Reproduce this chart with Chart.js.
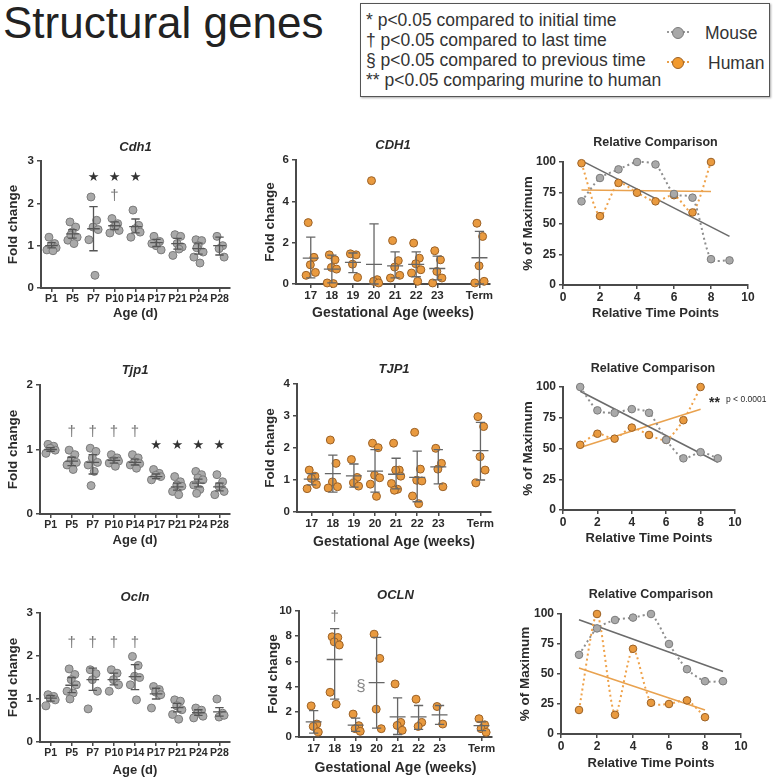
<!DOCTYPE html>
<html>
<head>
<meta charset="utf-8">
<script src="https://cdn.jsdelivr.net/npm/chart.js@4.4.0/dist/chart.umd.min.js"></script>
<style>
  body { margin: 0; width: 780px; height: 780px; position: relative; overflow: hidden; background: #fff;
         font-family: "Liberation Sans", Arial, sans-serif; color: #222; }
  .panel { position: absolute; }
  #bigTitle { position: absolute; left: 3px; top: -2px; font-size: 44px; line-height: 50px; color: #222; }
  #key { position: absolute; left: 360px; top: 3px; width: 408px; height: 92px; border: 1px solid #555;
         box-shadow: 1px 1px 2px #aaa; }
  #key .lines { position: absolute; left: 5px; top: 6px; font-size: 17.5px; line-height: 20px; color: #333; white-space: nowrap; }
  .sym { position: absolute; width: 10px; height: 10px; border-radius: 50%; }
  .stub { position: absolute; width: 22px; border-top: 2px dotted #999; }
  .lab { position: absolute; font-size: 17.5px; line-height: 20px; color: #333; }
</style>
</head>
<body>
<div id="bigTitle">Structural genes</div>
<div id="key">
  <div class="lines">
    * p&lt;0.05 compared to initial time<br>
    † p&lt;0.05 compared to last time<br>
    § p&lt;0.05 compared to previous time<br>
    ** p&lt;0.05 comparing murine to human
  </div>
  <div class="stub" style="left:306px;top:27px"></div>
  <div class="sym" style="left:311px;top:23px;background:#a9a9a9;border:1px solid #7b7b7b"></div>
  <div class="lab" style="left:344px;top:19px">Mouse</div>
  <div class="stub" style="left:306px;top:57px;border-color:#e9a04a"></div>
  <div class="sym" style="left:311px;top:53px;background:#f29a2e;border:1px solid #9b6126"></div>
  <div class="lab" style="left:347px;top:49px">Human</div>
</div>

<script>
// categories / tick labels
const mouseAges = ['P1', 'P5', 'P7', 'P10', 'P14', 'P17', 'P21', 'P24', 'P28'];
const mousePos = [0, 1, 2, 3, 4, 5, 6, 7, 8];
const humanAges = ['17', '18', '19', '20', '21', '22', '23', 'Term'];
const humanPos = [0, 1, 2, 3, 4, 5, 6, 8];

// Cdh1 (mouse)
const cdh1Mouse = [
  [1.2, 1.05, 1.0, 0.95, 0.9, 0.88],
  [1.56, 1.44, 1.32, 1.2, 1.13, 1.05, 1.25],
  [2.15, 1.6, 1.44, 1.38, 1.14, 0.3],
  [1.64, 1.52, 1.44, 1.36, 1.3, 1.48],
  [1.84, 1.48, 1.4, 1.32, 1.2],
  [1.22, 1.1, 1.0, 0.9, 1.05],
  [1.26, 1.22, 1.05, 0.97, 0.77, 0.92],
  [1.14, 1.12, 1.0, 0.85, 0.73, 0.59, 0.95],
  [1.22, 1.0, 0.93, 0.73]
];
const cdh1MouseMean = [1.0, 1.28, 1.4, 1.47, 1.45, 1.07, 1.05, 0.93, 1.0];
const cdh1MouseLo = [0.95, 1.18, 0.88, 1.38, 1.3, 0.98, 0.92, 0.8, 0.78];
const cdh1MouseHi = [1.07, 1.38, 1.92, 1.56, 1.63, 1.15, 1.17, 1.06, 1.2];

// CDH1 (human)
const cdh1Human = [
  [2.97, 1.29, 0.93, 0.56, 0.42],
  [1.41, 1.17, 0.8, 0.72, 0.05, 0.02],
  [1.46, 1.41, 0.96, 0.32],
  [5.0, 0.21, 0.13, 0.05],
  [2.1, 1.13, 0.82, 0.42, 0.29],
  [1.98, 1.25, 0.98, 0.69, 0.53, 0.13],
  [1.61, 1.17, 0.61, 0.29, 0.05],
  [2.94, 2.3, 0.88, 0.13, 0.05]
];
const cdh1HumanMean = [1.25, 0.72, 1.05, 0.95, 0.88, 0.95, 0.75, 1.27];
const cdh1HumanLo = [0.3, 0.05, 0.55, 0, 0.3, 0.35, 0.2, 0];
const cdh1HumanHi = [2.27, 1.4, 1.5, 2.91, 1.55, 1.55, 1.35, 2.55];

// Tjp1 (mouse)
const tjp1Mouse = [
  [1.08, 1.05, 1.02, 0.99, 0.94],
  [0.99, 0.92, 0.84, 0.8, 0.76, 0.69],
  [1.02, 0.97, 0.87, 0.8, 0.76, 0.66, 0.44],
  [0.92, 0.87, 0.83, 0.82, 0.79, 0.74],
  [0.92, 0.87, 0.81, 0.78, 0.76, 0.71],
  [0.69, 0.63, 0.6, 0.58, 0.53],
  [0.58, 0.5, 0.45, 0.43, 0.35, 0.3],
  [0.66, 0.61, 0.56, 0.53, 0.45, 0.38, 0.32],
  [0.61, 0.5, 0.43, 0.35, 0.3]
];
const tjp1MouseMean = [1.0, 0.82, 0.8, 0.83, 0.8, 0.58, 0.42, 0.48, 0.42];
const tjp1MouseLo = [0.97, 0.75, 0.62, 0.79, 0.76, 0.55, 0.37, 0.42, 0.36];
const tjp1MouseHi = [1.03, 0.88, 0.92, 0.87, 0.85, 0.62, 0.48, 0.54, 0.48];

// TJP1 (human)
const tjp1Human = [
  [1.31, 1.12, 1.05, 0.86, 0.73],
  [2.25, 1.52, 0.94, 0.79, 0.75],
  [1.64, 1.08, 0.91, 0.81],
  [2.15, 2.01, 1.15, 1.07, 0.87, 0.49],
  [2.15, 1.31, 1.31, 1.12, 0.89, 0.71, 0.68],
  [2.49, 1.34, 0.99, 0.97, 0.5, 0.26],
  [1.99, 1.52, 1.34, 0.79],
  [2.98, 2.67, 1.73, 1.31, 0.91]
];
const tjp1HumanMean = [1.03, 1.2, 1.13, 1.28, 1.18, 1.08, 1.41, 1.92];
const tjp1HumanLo = [0.85, 0.62, 0.78, 0.62, 0.72, 0.32, 0.88, 1.0];
const tjp1HumanHi = [1.2, 1.78, 1.5, 1.95, 1.68, 1.9, 1.95, 2.8];

// Ocln (mouse)
const oclnMouse = [
  [1.1, 1.06, 1.02, 0.98, 0.84],
  [1.7, 1.57, 1.45, 1.33, 1.18, 1.14, 1.0],
  [1.68, 1.59, 1.45, 1.18, 0.77],
  [1.68, 1.6, 1.45, 1.33, 1.18],
  [1.99, 1.78, 1.53, 1.5, 1.33, 0.98],
  [1.29, 1.22, 1.16, 1.1, 0.79],
  [0.98, 0.95, 0.84, 0.75, 0.64, 0.53],
  [0.79, 0.74, 0.67, 0.6, 0.56],
  [1.0, 0.67, 0.58, 0.62]
];
const oclnMouseMean = [1.02, 1.32, 1.45, 1.45, 1.52, 1.12, 0.8, 0.68, 0.7];
const oclnMouseLo = [0.95, 1.15, 1.2, 1.33, 1.22, 1.0, 0.7, 0.62, 0.6];
const oclnMouseHi = [1.08, 1.5, 1.72, 1.6, 1.8, 1.25, 0.9, 0.75, 0.8];

// OCLN (human)
const oclnHuman = [
  [2.47, 1.03, 0.84, 0.39],
  [7.95, 7.9, 7.55, 7.3, 3.55, 2.6],
  [1.82, 0.9, 0.66, 0.45],
  [8.16, 6.24, 2.21, 0.66],
  [4.21, 1.16, 0.92, 0.53],
  [3.0, 1.16, 0.84],
  [2.42, 1.03],
  [1.45, 0.97, 0.66, 0.37]
];
const oclnHumanMean = [1.2, 6.15, 0.95, 4.32, 1.6, 1.6, 1.75, 0.9];
const oclnHumanLo = [0.3, 3.0, 0.45, 0.7, 0.2, 0.6, 1.0, 0.5];
const oclnHumanHi = [2.1, 8.6, 1.5, 7.9, 3.1, 2.5, 2.5, 1.2];

// Relative comparison (% of maximum) at time points 1..n
const rel1Mouse = [68, 87, 94, 100, 98, 74, 71, 21, 20];
const rel1Human = [99, 56, 83, 75, 68, 73, 59, 100];
const rel2Mouse = [100, 81, 79, 82, 79, 57, 42, 47, 42];
const rel2Human = [53, 62, 58, 67, 61, 57, 73, 100];
const rel3Mouse = [66, 88, 95, 97, 100, 75, 54, 44, 44];
const rel3Human = [20, 100, 16, 71, 26, 25, 28, 14];

// styling
const FONT = '"Liberation Sans", Arial, sans-serif';
const AXIS = '#4a4a4a';
const TXT = '#2b2b2b';
const mouseFill = '#a9a9a9', mouseEdge = '#7b7b7b', mouseLine = '#8e8e8e', mouseFit = '#6b6b6b';
const humanFill = '#e99a3f', humanEdge = '#9b6126', humanLine = '#efa24a', humanFit = '#e9a24f';
const jitter = [-0.12, 0.15, -0.02, 0.22, -0.22, 0.07, -0.08];

Chart.defaults.font.family = FONT;
Chart.defaults.animation = false;

function scatterPoints(groups, pos) {
  const pts = [];
  groups.forEach((vals, i) => vals.forEach((v, j) => pts.push({ x: pos[i] + jitter[j % jitter.length], y: v })));
  return pts;
}

function seriesPoints(vals) {
  return vals.map((v, i) => ({ x: i + 1, y: v }));
}

// least-squares line through a relative-comparison series
function fitLine(vals) {
  const n = vals.length;
  const mx = (n + 1) / 2;
  const my = vals.reduce((a, b) => a + b, 0) / n;
  let sxy = 0, sxx = 0;
  vals.forEach((v, i) => { sxy += (i + 1 - mx) * (v - my); sxx += (i + 1 - mx) ** 2; });
  const b = sxy / sxx, a = my - b * mx;
  return [{ x: 1, y: a + b }, { x: n, y: a + b * n }];
}

const panelDraw = {
  id: 'panelDraw',
  afterDatasetsDraw(chart, args, o) {
    const { ctx, scales: { x, y }, chartArea } = chart;
    ctx.save();
    if (o.mean) {
      ctx.strokeStyle = o.barColor;
      ctx.lineWidth = 1.3;
      o.pos.forEach((p, i) => {
        const px = x.getPixelForValue(p);
        const lo = y.getPixelForValue(o.lo[i]), hi = y.getPixelForValue(o.hi[i]), m = y.getPixelForValue(o.mean[i]);
        const hw = x.getPixelForValue(p + o.half) - px, cw = x.getPixelForValue(p + o.cap) - px;
        ctx.beginPath();
        ctx.moveTo(px, lo); ctx.lineTo(px, hi);
        ctx.moveTo(px - cw, lo); ctx.lineTo(px + cw, lo);
        ctx.moveTo(px - cw, hi); ctx.lineTo(px + cw, hi);
        ctx.moveTo(px - hw, m); ctx.lineTo(px + hw, m);
        ctx.stroke();
      });
    }
    (o.marks || []).forEach(mk => {
      ctx.font = mk.font;
      ctx.fillStyle = mk.color;
      ctx.textAlign = 'center';
      ctx.textBaseline = 'middle';
      mk.at.forEach(i => ctx.fillText(mk.text, x.getPixelForValue(o.pos[i] + (mk.dx || 0)), y.getPixelForValue(mk.y)));
    });
    if (o.note) {
      ctx.textBaseline = 'middle';
      ctx.textAlign = 'left';
      ctx.fillStyle = TXT;
      ctx.font = 'bold 14px ' + FONT;
      ctx.fillText('**', o.note.x, o.note.y + 3);
      ctx.font = '8.5px ' + FONT;
      ctx.fillText('p < 0.0001', o.note.x + 17, o.note.y);
    }
    ctx.fillStyle = TXT;
    ctx.textAlign = 'center';
    ctx.textBaseline = 'middle';
    ctx.font = o.titleFont;
    ctx.fillText(o.title, (chartArea.left + chartArea.right) / 2 + (o.titleDx || 0), o.titleY);
    ctx.restore();
  }
};

function makePanel(g, ax, datasets, drawOpts) {
  const wrap = document.createElement('div');
  wrap.className = 'panel';
  wrap.style.cssText = `left:${g.left}px;top:${g.top}px;width:${g.w}px;height:${g.h}px`;
  const cv = document.createElement('canvas');
  wrap.appendChild(cv);
  document.body.appendChild(wrap);
  const xTickFont = { size: ax.xtickSize || 11.5, weight: 'bold', family: FONT };
  const yTickFont = { size: ax.ytickSize || 11.5, weight: 'bold', family: FONT };
  const xtSize = ax.xtitleSize || 13;
  const ytSize = 13.5;
  const xTitleFont = { size: xtSize, weight: 'bold', family: FONT };
  const yTitleFont = { size: ytSize, weight: 'bold', family: FONT };
  drawOpts.titleY = g.titleY - g.top;
  new Chart(cv, {
    type: 'scatter',
    data: { datasets: datasets.map(d => ({ clip: false, ...d })) },
    options: {
      responsive: true,
      maintainAspectRatio: false,
      layout: { padding: { top: g.pt - g.top, right: g.left + g.w - g.pr, left: 0, bottom: 0 } },
      plugins: { legend: { display: false }, tooltip: { enabled: false }, panelDraw: drawOpts },
      scales: {
        x: {
          type: 'linear', min: ax.xmin, max: ax.xmax,
          afterBuildTicks: ax.xpos ? s => { s.ticks = ax.xpos.map(v => ({ value: v })); } : undefined,
          afterFit: s => { s.height = g.top + g.h - g.pb; },
          ticks: {
            stepSize: ax.xstep, autoSkip: false, maxRotation: 0, padding: 1, color: TXT, font: xTickFont,
            callback: ax.xlabels ? (v, i) => ax.xlabels[i] : v => v
          },
          grid: { drawOnChartArea: false, tickLength: 4, color: AXIS, lineWidth: 1.5 },
          border: { color: AXIS, width: 2 },
          title: { display: true, text: ax.xtitle, color: TXT, font: xTitleFont,
                   padding: { top: 0, bottom: g.top + g.h - g.xTitleY - xtSize * 0.6 } }
        },
        y: {
          min: 0, max: ax.ymax,
          afterFit: s => { s.width = g.pl - g.left; },
          ticks: { stepSize: ax.ystep, padding: 3, color: TXT, font: yTickFont },
          grid: { drawOnChartArea: false, tickLength: 4, color: AXIS, lineWidth: 1.5 },
          border: { color: AXIS, width: 2 },
          title: { display: true, text: ax.ytitle, color: TXT, font: yTitleFont,
                   padding: { top: g.yTitleX - g.left - ytSize * 0.6, bottom: 0 } }
        }
      }
    },
    plugins: [panelDraw]
  });
}

function dotSet(points, fill, edge, r) {
  return { data: points, pointRadius: r, pointBackgroundColor: fill, pointBorderColor: edge, pointBorderWidth: 1, showLine: false };
}

const starFont = '13px "DejaVu Sans"';
const daggerFont = '15px ' + FONT;
const geneFont = 'bold italic 13px ' + FONT;

// ---- row 1 ----
makePanel(
  { left: 0, top: 130, w: 255, h: 195, pl: 41, pr: 230, pt: 161, pb: 288, xTitleY: 313, yTitleX: 13, titleY: 147 },
  { xmin: -0.5, xmax: 8.5, xpos: mousePos, xlabels: mouseAges, xtickSize: 10.5, ymax: 3, ystep: 1, xtitle: 'Age (d)', ytitle: 'Fold change' },
  [dotSet(scatterPoints(cdh1Mouse, mousePos), mouseFill, mouseEdge, 4)],
  { title: 'Cdh1', titleFont: geneFont, pos: mousePos, mean: cdh1MouseMean, lo: cdh1MouseLo, hi: cdh1MouseHi,
    barColor: '#555', half: 0.3, cap: 0.2,
    marks: [{ text: '★', at: [2, 3, 4], y: 2.6, font: starFont, color: '#333' },
            { text: '†', at: [3], y: 2.17, font: daggerFont, color: '#777' }] }
);

makePanel(
  { left: 255, top: 130, w: 255, h: 195, pl: 296, pr: 490, pt: 160, pb: 284, xTitleY: 313, yTitleX: 270, titleY: 145 },
  { xmin: -0.7, xmax: 8.5, xpos: humanPos, xlabels: humanAges, ymax: 6, ystep: 2, xtitleSize: 14, xtitle: 'Gestational Age (weeks)', ytitle: 'Fold change' },
  [dotSet(scatterPoints(cdh1Human, humanPos), humanFill, humanEdge, 4)],
  { title: 'CDH1', titleFont: geneFont, pos: humanPos, mean: cdh1HumanMean, lo: cdh1HumanLo, hi: cdh1HumanHi,
    barColor: '#666', half: 0.38, cap: 0.22 }
);

function relPanel(g, mouseVals, humanVals, drawOpts) {
  makePanel(g,
    { xmin: 0, xmax: 10, xstep: 2, ymax: 100, ystep: 25, xtickSize: 12, ytickSize: 12, xtitle: 'Relative Time Points', ytitle: '% of Maximum' },
    [
      { ...dotSet(seriesPoints(mouseVals), mouseFill, mouseEdge, 3.8), showLine: true, borderColor: mouseLine, borderWidth: 2,
        borderDash: [2, 3], tension: 0.25, order: 1 },
      { ...dotSet(seriesPoints(humanVals), humanFill, humanEdge, 3.8), showLine: true, borderColor: humanLine, borderWidth: 2,
        borderDash: [2, 3], tension: 0.25, order: 2 },
      { data: fitLine(mouseVals), showLine: true, pointRadius: 0, borderColor: mouseFit, borderWidth: 1.6, order: 3 },
      { data: fitLine(humanVals), showLine: true, pointRadius: 0, borderColor: humanFit, borderWidth: 1.6, order: 4 }
    ],
    Object.assign({ title: 'Relative Comparison', titleFont: 'bold 12.5px ' + FONT, pos: [] }, drawOpts)
  );
}

relPanel({ left: 508, top: 130, w: 270, h: 195, pl: 563, pr: 748, pt: 162, pb: 285, xTitleY: 313, yTitleX: 528, titleY: 143 },
  rel1Mouse, rel1Human, {});

// ---- row 2 ----
makePanel(
  { left: 0, top: 355, w: 255, h: 195, pl: 40, pr: 230, pt: 385, pb: 514, xTitleY: 540, yTitleX: 13, titleY: 370 },
  { xmin: -0.5, xmax: 8.5, xpos: mousePos, xlabels: mouseAges, xtickSize: 10.5, ymax: 2, ystep: 1, xtitle: 'Age (d)', ytitle: 'Fold change' },
  [dotSet(scatterPoints(tjp1Mouse, mousePos), mouseFill, mouseEdge, 4)],
  { title: 'Tjp1', titleFont: geneFont, pos: mousePos, mean: tjp1MouseMean, lo: tjp1MouseLo, hi: tjp1MouseHi,
    barColor: '#555', half: 0.3, cap: 0.2,
    marks: [{ text: '†', at: [1, 2, 3, 4], y: 1.27, font: daggerFont, color: '#777' },
            { text: '★', at: [5, 6, 7, 8], y: 1.06, font: starFont, color: '#333' }] }
);

makePanel(
  { left: 255, top: 355, w: 255, h: 195, pl: 297, pr: 491, pt: 384, pb: 512, xTitleY: 542, yTitleX: 270, titleY: 369 },
  { xmin: -0.7, xmax: 8.5, xpos: humanPos, xlabels: humanAges, ymax: 4, ystep: 1, xtitleSize: 14, xtitle: 'Gestational Age (weeks)', ytitle: 'Fold change' },
  [dotSet(scatterPoints(tjp1Human, humanPos), humanFill, humanEdge, 4)],
  { title: 'TJP1', titleFont: geneFont, pos: humanPos, mean: tjp1HumanMean, lo: tjp1HumanLo, hi: tjp1HumanHi,
    barColor: '#666', half: 0.38, cap: 0.22 }
);

relPanel({ left: 508, top: 355, w: 270, h: 195, pl: 563, pr: 735, pt: 387, pb: 510, xTitleY: 538, yTitleX: 528, titleY: 369 },
  rel2Mouse, rel2Human, { note: { x: 201, y: 45 }, titleDx: 4 });

// ---- row 3 ----
makePanel(
  { left: 0, top: 580, w: 255, h: 200, pl: 40, pr: 230, pt: 613, pb: 742, xTitleY: 770, yTitleX: 13, titleY: 597 },
  { xmin: -0.5, xmax: 8.5, xpos: mousePos, xlabels: mouseAges, xtickSize: 10.5, ymax: 3, ystep: 1, xtitle: 'Age (d)', ytitle: 'Fold change' },
  [dotSet(scatterPoints(oclnMouse, mousePos), mouseFill, mouseEdge, 4)],
  { title: 'Ocln', titleFont: geneFont, pos: mousePos, mean: oclnMouseMean, lo: oclnMouseLo, hi: oclnMouseHi,
    barColor: '#555', half: 0.3, cap: 0.2,
    marks: [{ text: '†', at: [1, 2, 3, 4], y: 2.3, font: daggerFont, color: '#777' }] }
);

makePanel(
  { left: 255, top: 580, w: 255, h: 200, pl: 299, pr: 492, pt: 611, pb: 737, xTitleY: 768, yTitleX: 273, titleY: 595 },
  { xmin: -0.7, xmax: 8.5, xpos: humanPos, xlabels: humanAges, ymax: 10, ystep: 2, xtitleSize: 14, xtitle: 'Gestational Age (weeks)', ytitle: 'Fold change' },
  [dotSet(scatterPoints(oclnHuman, humanPos), humanFill, humanEdge, 4)],
  { title: 'OCLN', titleFont: geneFont, pos: humanPos, mean: oclnHumanMean, lo: oclnHumanLo, hi: oclnHumanHi,
    barColor: '#666', half: 0.38, cap: 0.22,
    marks: [{ text: '†', at: [1], y: 9.5, font: daggerFont, color: '#777' },
            { text: '§', at: [2], y: 4.0, dx: 0.25, font: '17px ' + FONT, color: '#888' }] }
);

relPanel({ left: 508, top: 580, w: 270, h: 200, pl: 561, pr: 741, pt: 614, pb: 734, xTitleY: 763, yTitleX: 525, titleY: 595 },
  rel3Mouse, rel3Human, {});
</script>
</body>
</html>
